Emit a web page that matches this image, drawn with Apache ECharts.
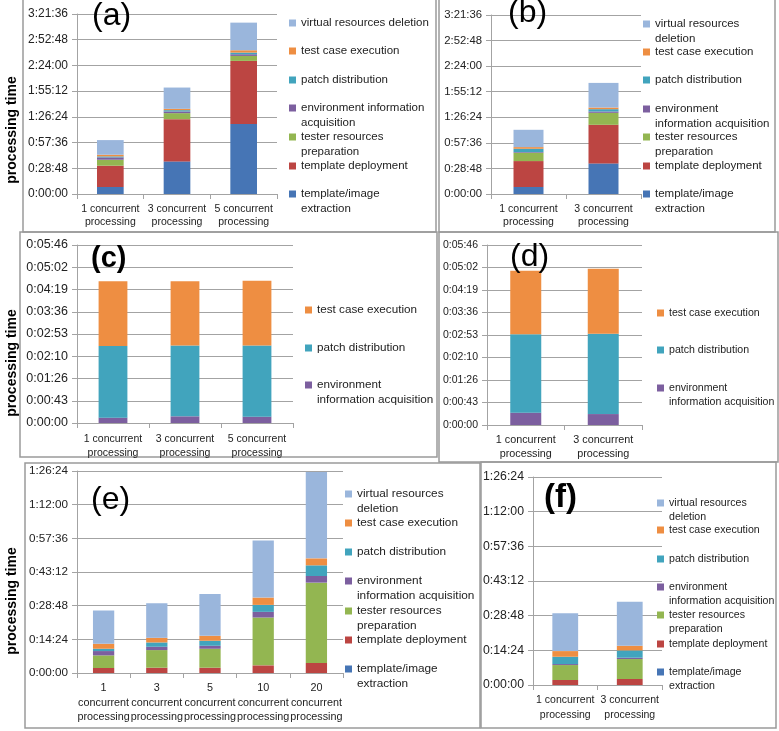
<!DOCTYPE html>
<html><head><meta charset="utf-8">
<script src="https://cdn.jsdelivr.net/npm/echarts@6/dist/echarts.min.js"></script>
<style>html,body{margin:0;padding:0;background:#fff}#c{width:779px;height:731px}</style>
</head><body><div id="c"></div>
<script>
// ---------- data (seconds) ----------
const seriesNames = ['template/image extraction','template deployment','tester resources preparation','environment information acquisition','patch distribution','test case execution','virtual resources deletion'];

const ticksAB = ['0:00:00','0:28:48','0:57:36','1:26:24','1:55:12','2:24:00','2:52:48','3:21:36'];
const ticksCD = ['0:00:00','0:00:43','0:01:26','0:02:10','0:02:53','0:03:36','0:04:19','0:05:02','0:05:46'];
const ticksEF = ['0:00:00','0:14:24','0:28:48','0:43:12','0:57:36','1:12:00','1:26:24'];

// (a)
const categoriesA = ['1 concurrent\nprocessing','3 concurrent\nprocessing','5 concurrent\nprocessing'];
const extractionA = [470, 2191, 4696];
const deploymentA = [1431, 2840, 4248];
const testerA = [402, 402, 335];
const environmentA = [157, 112, 112];
const patchA = [67, 89, 112];
const testCaseA = [112, 89, 157];
const deletionA = [984, 1431, 1856];

// (b)
const categoriesB = ['1 concurrent\nprocessing','3 concurrent\nprocessing'];
const extractionB = [472, 2068];
const deploymentB = [1753, 2608];
const testerB = [562, 809];
const environmentB = [45, 90];
const patchB = [225, 157];
const testCaseB = [112, 112];
const deletionB = [1169, 1664];

// (c)
const categoriesC = ['1 concurrent\nprocessing','3 concurrent\nprocessing','5 concurrent\nprocessing'];
const environmentC = [10.4, 13, 12.3];
const patchC = [139, 137.5, 138];
const testCaseC = [126, 124.5, 125.8];

// (d)
const categoriesD = ['1 concurrent\nprocessing','3 concurrent\nprocessing'];
const environmentD = [23.7, 21];
const patchD = [150.4, 154];
const testCaseD = [122, 125];

// (e)
const categoriesE = ['1\nconcurrent\nprocessing','3\nconcurrent\nprocessing','5\nconcurrent\nprocessing','10\nconcurrent\nprocessing','20\nconcurrent\nprocessing'];
const extractionE = [0, 0, 0, 0, 0];
const deploymentE = [128, 136, 136, 196, 256];
const testerE = [324, 452, 486, 1228, 2063];
const environmentE = [111, 85, 77, 145, 171];
const patchE = [60, 111, 128, 179, 273];
const testCaseE = [128, 119, 128, 188, 179];
const deletionE = [853, 887, 1074, 1466, 2217];

// (f)
const categoriesF = ['1 concurrent\nprocessing','3 concurrent\nprocessing'];
const extractionF = [0, 0];
const deploymentF = [124, 149];
const testerF = [373, 498];
const environmentF = [25, 33];
const patchF = [182, 182];
const testCaseF = [141, 116];
const deletionF = [946, 1095];

// ---------- styling / layout ----------
const colors = {
  'template/image extraction':'#4675b5',
  'template deployment':'#bc4542',
  'tester resources preparation':'#93b651',
  'environment information acquisition':'#7c5f9f',
  'patch distribution':'#41a4bd',
  'test case execution':'#ee8e42',
  'virtual resources deletion':'#9ab6dc'
};
const FONT = 'Liberation Sans, Arial, sans-serif';
const GRAY = '#a3a3a3';

const panels = [
  {label:'(a)', lbl:{left:92,top:0,size:32,bold:false}, grid:{left:77,top:14,width:200,height:180},
   cats:categoriesA, ticks:ticksAB, interval:1728, yFont:12, xFont:10.5, xLH:13, xMargin:9, yName:true, nameShift:26,
   series:[extractionA,deploymentA,testerA,environmentA,patchA,testCaseA,deletionA], names:seriesNames},
  {label:'(b)', lbl:{left:508,top:-3,size:32,bold:false}, grid:{left:491,top:15,width:150,height:179},
   cats:categoriesB, ticks:ticksAB, interval:1728, yFont:11.3, xFont:10.5, xLH:13, xMargin:9, yName:false,
   series:[extractionB,deploymentB,testerB,environmentB,patchB,testCaseB,deletionB], names:seriesNames},
  {label:'(c)', lbl:{left:91,top:244,size:29,bold:true}, grid:{left:77,top:245,width:216,height:178},
   cats:categoriesC, ticks:ticksCD, interval:43.2, yFont:12.5, xFont:10.5, xLH:14, xMargin:9, yName:true, nameShift:29,
   series:[environmentC,patchC,testCaseC], names:seriesNames.slice(3,6)},
  {label:'(d)', lbl:{left:510,top:241,size:32,bold:false}, grid:{left:487,top:245,width:155,height:180},
   cats:categoriesD, ticks:ticksCD, interval:43.2, yFont:10.5, xFont:10.8, xLH:14, xMargin:8, yName:false,
   series:[environmentD,patchD,testCaseD], names:seriesNames.slice(3,6)},
  {label:'(e)', lbl:{left:91,top:484,size:32,bold:false}, grid:{left:77,top:471,width:266,height:202},
   cats:categoriesE, ticks:ticksEF, interval:864, yFont:11.7, xFont:10.8, xLH:14.5, xMargin:8, yName:true, nameShift:29,
   series:[extractionE,deploymentE,testerE,environmentE,patchE,testCaseE,deletionE], names:seriesNames},
  {label:'(f)', lbl:{left:544,top:481,size:33,bold:true}, grid:{left:533,top:477,width:129,height:208},
   cats:categoriesF, ticks:ticksEF, interval:864, yFont:12.3, xFont:10.5, xLH:14.5, xMargin:8, yName:false,
   series:[extractionF,deploymentF,testerF,environmentF,patchF,testCaseF,deletionF], names:seriesNames}
];

const legends = [
  {left:289, fs:11.5, lh:14.5, items:[
    ['virtual resources deletion','virtual resources deletion',22],
    ['test case execution','test case execution',50],
    ['patch distribution','patch distribution',79],
    ['environment information acquisition','environment information\nacquisition',107],
    ['tester resources preparation','tester resources\npreparation',136],
    ['template deployment','template deployment',165],
    ['template/image extraction','template/image\nextraction',193]]},
  {left:643, fs:11.5, lh:14.5, items:[
    ['virtual resources deletion','virtual resources\ndeletion',23],
    ['test case execution','test case execution',51],
    ['patch distribution','patch distribution',79],
    ['environment information acquisition','environment\ninformation acquisition',108],
    ['tester resources preparation','tester resources\npreparation',136],
    ['template deployment','template deployment',165],
    ['template/image extraction','template/image\nextraction',193]]},
  {left:305, fs:11.7, lh:15, items:[
    ['test case execution','test case execution',309],
    ['patch distribution','patch distribution',347],
    ['environment information acquisition','environment\ninformation acquisition',384]]},
  {left:657, fs:10.6, lh:14, items:[
    ['test case execution','test case execution',312],
    ['patch distribution','patch distribution',349],
    ['environment information acquisition','environment\ninformation acquisition',387]]},
  {left:345, fs:11.8, lh:15, items:[
    ['virtual resources deletion','virtual resources\ndeletion',493],
    ['test case execution','test case execution',522],
    ['patch distribution','patch distribution',551],
    ['environment information acquisition','environment\ninformation acquisition',580],
    ['tester resources preparation','tester resources\npreparation',610],
    ['template deployment','template deployment',639],
    ['template/image extraction','template/image\nextraction',668]]},
  {left:657, fs:10.6, lh:14, items:[
    ['virtual resources deletion','virtual resources\ndeletion',502],
    ['test case execution','test case execution',529],
    ['patch distribution','patch distribution',558],
    ['environment information acquisition','environment\ninformation acquisition',586],
    ['tester resources preparation','tester resources\npreparation',614],
    ['template deployment','template deployment',643],
    ['template/image extraction','template/image\nextraction',671]]}
];

const borders = [
  [23,-1,413,233],[439,-1,336,233],[20,232,417,225],[439,232,339,230],[25,463,455,265],[481,462,295,266]
];

// ---------- build option ----------
const option = {
  animation:false,
  backgroundColor:'#fff',
  textStyle:{fontFamily:FONT},
  grid:[], xAxis:[], yAxis:[], series:[], legend:[], title:[],
  graphic: borders.map(b => ({type:'rect', silent:true, z:-10,
    shape:{x:b[0], y:b[1], width:b[2], height:b[3]},
    style:{fill:null, stroke:'#9a9a9a', lineWidth:1.5}}))
};

panels.forEach((p, i) => {
  option.grid.push(Object.assign({outerBoundsMode:'none', containLabel:false}, p.grid));
  option.xAxis.push({type:'category', gridIndex:i, data:p.cats,
    axisLine:{lineStyle:{color:GRAY}},
    axisTick:{show:true, length:5, interval:0, lineStyle:{color:GRAY}},
    axisLabel:{interval:0, color:'#222', fontSize:p.xFont, lineHeight:p.xLH, margin:p.xMargin, fontFamily:FONT},
    splitLine:{show:false}});
  const ticks = p.ticks, iv = p.interval;
  const y = {type:'value', gridIndex:i, min:0, max:iv*(ticks.length-1), interval:iv,
    axisLine:{show:true, lineStyle:{color:GRAY}},
    axisTick:{show:true, length:5, lineStyle:{color:GRAY}},
    splitLine:{show:true, lineStyle:{color:GRAY, width:1}},
    axisLabel:{color:'#222', fontSize:p.yFont, margin:9, fontFamily:FONT,
      formatter:(v) => ticks[Math.round(v/iv)]}};
  if (p.yName) {
    Object.assign(y, {name:'processing time', nameLocation:'middle', nameGap:58,
      nameTextStyle:{fontSize:14, fontWeight:'bold', color:'#000', fontFamily:FONT,
        padding:[0, p.nameShift*2, 0, 0]}});
  }
  option.yAxis.push(y);
  p.series.forEach((d, k) => {
    option.series.push({type:'bar', name:p.names[k], xAxisIndex:i, yAxisIndex:i,
      stack:'s'+i, data:d, barWidth:'40%', itemStyle:{color:colors[p.names[k]]},
      emphasis:{disabled:true}});
  });
  option.title.push({text:p.label, left:p.lbl.left, top:p.lbl.top, padding:0,
    textStyle:{fontSize:p.lbl.size, fontWeight:p.lbl.bold?'bold':'normal', color:'#000', fontFamily:FONT}});
});

// Legend text is vertically centred on its icon; for two-line entries a blank
// leading line keeps the icon level with the first text line.
legends.forEach(L => {
  L.items.forEach(it => {
    const n = it[1].split('\n').length;
    const txt = n > 1 ? '\u00a0\n' + it[1] : it[1];
    option.legend.push({data:[it[0]], left:L.left, top:it[2] - (2*n-1)*L.lh/2 + 1, padding:0,
      orient:'vertical', itemWidth:7, itemHeight:7, icon:'rect', selectedMode:false,
      formatter:txt,
      textStyle:{fontSize:L.fs, lineHeight:L.lh, color:'#222', fontFamily:FONT}});
  });
});

const chart = echarts.init(document.getElementById('c'), null, {renderer:'canvas'});
chart.setOption(option);
</script>
</body></html>
